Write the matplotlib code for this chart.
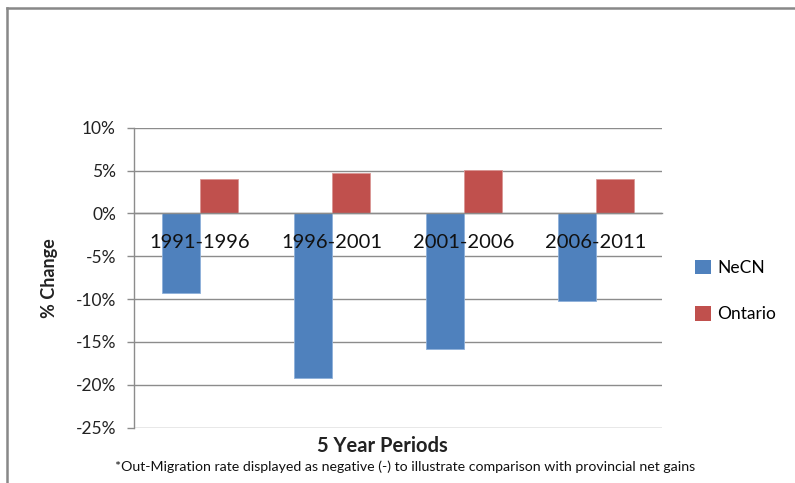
import matplotlib
matplotlib.use("Agg")
import matplotlib.pyplot as plt
import numpy as np
from matplotlib.ticker import FuncFormatter

periods = ["1991-1996", "1996-2001", "2001-2006", "2006-2011"]
necn = [-9.3, -19.2, -15.8, -10.2]
ontario = [4.0, 4.7, 5.1, 4.0]
series_names = ["NeCN", "Ontario"]
y_ticks = [10, 5, 0, -5, -10, -15, -20, -25]

plt.rcParams["font.family"] = ["Lato", "DejaVu Sans"]

W, H = 795, 483
fig = plt.figure(figsize=(W / 100, H / 100), dpi=100)
fig.patch.set_facecolor("white")

left, right, top, bottom = 134, 662, 127.7, 427.7
ax = fig.add_axes([left / W, 1 - bottom / H, (right - left) / W, (bottom - top) / H])

x = np.arange(len(periods))
bw = 1 / 3.5
ax.bar(x - bw / 2, necn, bw, color="#4F81BD", edgecolor="#8EB0DA", linewidth=0.6,
       label=series_names[0], zorder=3)
ax.bar(x + bw / 2, ontario, bw, color="#C0504D", edgecolor="#DA9694", linewidth=0.6,
       label=series_names[1], zorder=3)

ax.set_xlim(-0.5, len(periods) - 0.5)
ax.set_ylim(-25, 10)
ax.set_yticks(y_ticks)
ax.yaxis.set_major_formatter(FuncFormatter(lambda v, p: f"{v:.0f}%"))
ax.yaxis.grid(True, color="#8C8C8C", linewidth=1.0)
ax.set_axisbelow(True)
# category labels sit over the bars
ax.xaxis.set_zorder(5)

for s in ["top", "right"]:
    ax.spines[s].set_visible(False)
ax.spines["left"].set_color("#8C8C8C")
ax.spines["left"].set_linewidth(1.0)
ax.spines["bottom"].set_position(("data", 0))
ax.spines["bottom"].set_color("#8C8C8C")
ax.spines["bottom"].set_linewidth(1.0)
ax.spines["bottom"].set_zorder(4)

ax.tick_params(axis="y", length=5, width=1.0, color="#8C8C8C", labelsize=12.5,
               labelcolor="#222222", pad=8)
ax.tick_params(axis="x", length=0, labelsize=14.5, labelcolor="#111111", pad=15)
ax.set_xticks(x)
ax.set_xticklabels(periods)

fig.text(50 / W, 1 - 278 / H, "% Change", rotation=90, ha="center", va="center",
         fontsize=13, fontweight="bold", color="#222222")
fig.text(382 / W, 1 - 446 / H, "5 Year Periods", ha="center", va="center",
         fontsize=14.5, fontweight="bold", color="#222222")
fig.text(405 / W, 1 - 467 / H,
         "*Out-Migration rate displayed as negative (-) to illustrate comparison with provincial net gains",
         ha="center", va="center", fontsize=10.2, color="#111111")

leg = fig.legend(loc="center left", bbox_to_anchor=(688 / W, 1 - 291 / H), frameon=False,
                 fontsize=12.5, handlelength=0.9, handleheight=0.9, handletextpad=0.4,
                 labelspacing=1.75, borderaxespad=0)
for h in leg.legend_handles:
    h.set_edgecolor("none")

# frame edges along top and left
fig.add_artist(plt.Line2D([7 / W, 1], [1 - 8 / H, 1 - 8 / H], color="#888888", linewidth=1.8,
                          transform=fig.transFigure))
fig.add_artist(plt.Line2D([7 / W, 7 / W], [0, 1 - 8 / H], color="#888888", linewidth=1.8,
                          transform=fig.transFigure))

fig.savefig("out.png", dpi=100, facecolor="white")
